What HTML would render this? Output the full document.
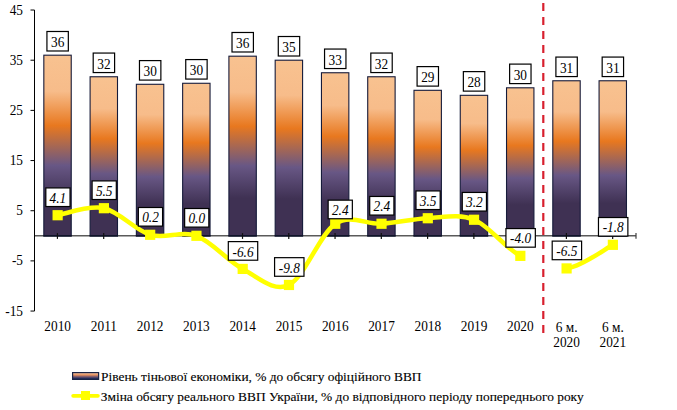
<!DOCTYPE html>
<html><head><meta charset="utf-8"><style>
html,body{margin:0;padding:0;background:#fff;}
svg{display:block;}
text{font-family:"Liberation Serif",serif;fill:#000;}
.s{font-size:13.33px;}
.x{font-size:13.33px;}
.i{font-size:13.33px;font-style:italic;}
.l{font-size:13.4px;stroke:#000;stroke-width:0.12px;}
</style></head><body>
<svg width="677" height="410" viewBox="0 0 677 410">
<defs><linearGradient id="g" x1="0" y1="0" x2="0" y2="1"><stop offset="0" stop-color="#F8C290"/><stop offset="0.2" stop-color="#F7BC8A"/><stop offset="0.39" stop-color="#E8781F"/><stop offset="0.61" stop-color="#685785"/><stop offset="0.79" stop-color="#3F3153"/><stop offset="1" stop-color="#3F3153"/></linearGradient><linearGradient id="gl" x1="0" y1="0" x2="0" y2="1"><stop offset="0" stop-color="#F8CDB0"/><stop offset="0.35" stop-color="#E8905A"/><stop offset="0.6" stop-color="#7A5A70"/><stop offset="0.85" stop-color="#283060"/><stop offset="1" stop-color="#1F2A55"/></linearGradient></defs>
<line x1="34.5" y1="235.8" x2="636.0" y2="235.8" stroke="#5a5a5a" stroke-width="1.5"/>
<rect x="43.83" y="55.19" width="27.4" height="180.61" fill="url(#g)" stroke="#161B3A" stroke-width="1.1"/>
<line x1="43.33" y1="235.8" x2="71.73" y2="235.8" stroke="#10142a" stroke-width="1.6"/>
<rect x="90.10" y="76.76" width="27.4" height="159.04" fill="url(#g)" stroke="#161B3A" stroke-width="1.1"/>
<line x1="89.60" y1="235.8" x2="118.00" y2="235.8" stroke="#10142a" stroke-width="1.6"/>
<rect x="136.37" y="84.29" width="27.4" height="151.51" fill="url(#g)" stroke="#161B3A" stroke-width="1.1"/>
<line x1="135.87" y1="235.8" x2="164.27" y2="235.8" stroke="#10142a" stroke-width="1.6"/>
<rect x="182.64" y="83.28" width="27.4" height="152.52" fill="url(#g)" stroke="#161B3A" stroke-width="1.1"/>
<line x1="182.14" y1="235.8" x2="210.54" y2="235.8" stroke="#10142a" stroke-width="1.6"/>
<rect x="228.91" y="56.19" width="27.4" height="179.61" fill="url(#g)" stroke="#161B3A" stroke-width="1.1"/>
<line x1="228.41" y1="235.8" x2="256.81" y2="235.8" stroke="#10142a" stroke-width="1.6"/>
<rect x="275.18" y="60.21" width="27.4" height="175.59" fill="url(#g)" stroke="#161B3A" stroke-width="1.1"/>
<line x1="274.68" y1="235.8" x2="303.08" y2="235.8" stroke="#10142a" stroke-width="1.6"/>
<rect x="321.45" y="72.75" width="27.4" height="163.05" fill="url(#g)" stroke="#161B3A" stroke-width="1.1"/>
<line x1="320.95" y1="235.8" x2="349.35" y2="235.8" stroke="#10142a" stroke-width="1.6"/>
<rect x="367.72" y="76.76" width="27.4" height="159.04" fill="url(#g)" stroke="#161B3A" stroke-width="1.1"/>
<line x1="367.22" y1="235.8" x2="395.62" y2="235.8" stroke="#10142a" stroke-width="1.6"/>
<rect x="413.99" y="90.31" width="27.4" height="145.49" fill="url(#g)" stroke="#161B3A" stroke-width="1.1"/>
<line x1="413.49" y1="235.8" x2="441.89" y2="235.8" stroke="#10142a" stroke-width="1.6"/>
<rect x="460.26" y="95.32" width="27.4" height="140.48" fill="url(#g)" stroke="#161B3A" stroke-width="1.1"/>
<line x1="459.76" y1="235.8" x2="488.16" y2="235.8" stroke="#10142a" stroke-width="1.6"/>
<rect x="506.53" y="87.80" width="27.4" height="148.00" fill="url(#g)" stroke="#161B3A" stroke-width="1.1"/>
<line x1="506.03" y1="235.8" x2="534.43" y2="235.8" stroke="#10142a" stroke-width="1.6"/>
<rect x="552.80" y="80.77" width="27.4" height="155.03" fill="url(#g)" stroke="#161B3A" stroke-width="1.1"/>
<line x1="552.30" y1="235.8" x2="580.70" y2="235.8" stroke="#10142a" stroke-width="1.6"/>
<rect x="599.07" y="80.77" width="27.4" height="155.03" fill="url(#g)" stroke="#161B3A" stroke-width="1.1"/>
<line x1="598.57" y1="235.8" x2="626.97" y2="235.8" stroke="#10142a" stroke-width="1.6"/>
<line x1="57.43" y1="233.10000000000002" x2="57.43" y2="238.9" stroke="#111" stroke-width="1.2"/>
<line x1="103.70" y1="233.10000000000002" x2="103.70" y2="238.9" stroke="#111" stroke-width="1.2"/>
<line x1="149.97" y1="233.10000000000002" x2="149.97" y2="238.9" stroke="#111" stroke-width="1.2"/>
<line x1="196.24" y1="233.10000000000002" x2="196.24" y2="238.9" stroke="#111" stroke-width="1.2"/>
<line x1="242.51" y1="233.10000000000002" x2="242.51" y2="238.9" stroke="#111" stroke-width="1.2"/>
<line x1="288.78" y1="233.10000000000002" x2="288.78" y2="238.9" stroke="#111" stroke-width="1.2"/>
<line x1="335.05" y1="233.10000000000002" x2="335.05" y2="238.9" stroke="#111" stroke-width="1.2"/>
<line x1="381.32" y1="233.10000000000002" x2="381.32" y2="238.9" stroke="#111" stroke-width="1.2"/>
<line x1="427.59" y1="233.10000000000002" x2="427.59" y2="238.9" stroke="#111" stroke-width="1.2"/>
<line x1="473.86" y1="233.10000000000002" x2="473.86" y2="238.9" stroke="#111" stroke-width="1.2"/>
<line x1="520.13" y1="233.10000000000002" x2="520.13" y2="238.9" stroke="#111" stroke-width="1.2"/>
<line x1="566.40" y1="233.10000000000002" x2="566.40" y2="238.9" stroke="#111" stroke-width="1.2"/>
<line x1="612.67" y1="233.10000000000002" x2="612.67" y2="238.9" stroke="#111" stroke-width="1.2"/>
<line x1="636.0" y1="233.0" x2="636.0" y2="238.8" stroke="#404040" stroke-width="1.2"/>
<line x1="34.5" y1="10.034999999999997" x2="34.5" y2="311.055" stroke="#000" stroke-width="1"/>
<line x1="30.5" y1="10.03" x2="34.5" y2="10.03" stroke="#000" stroke-width="1"/>
<text transform="translate(23.00,14.53) scale(1.0,1.04)" text-anchor="end" class="s">45</text>
<line x1="30.5" y1="60.21" x2="34.5" y2="60.21" stroke="#000" stroke-width="1"/>
<text transform="translate(23.00,64.71) scale(1.0,1.04)" text-anchor="end" class="s">35</text>
<line x1="30.5" y1="110.38" x2="34.5" y2="110.38" stroke="#000" stroke-width="1"/>
<text transform="translate(23.00,114.88) scale(1.0,1.04)" text-anchor="end" class="s">25</text>
<line x1="30.5" y1="160.55" x2="34.5" y2="160.55" stroke="#000" stroke-width="1"/>
<text transform="translate(23.00,165.05) scale(1.0,1.04)" text-anchor="end" class="s">15</text>
<line x1="30.5" y1="210.72" x2="34.5" y2="210.72" stroke="#000" stroke-width="1"/>
<text transform="translate(23.00,215.22) scale(1.0,1.04)" text-anchor="end" class="s">5</text>
<line x1="30.5" y1="260.88" x2="34.5" y2="260.88" stroke="#000" stroke-width="1"/>
<text transform="translate(23.00,265.38) scale(1.0,1.04)" text-anchor="end" class="s">-5</text>
<line x1="30.5" y1="311.06" x2="34.5" y2="311.06" stroke="#000" stroke-width="1"/>
<text transform="translate(23.00,315.56) scale(1.0,1.04)" text-anchor="end" class="s">-15</text>
<text transform="translate(57.63,331.00) scale(1.0,1.08)" text-anchor="middle" class="x">2010</text>
<text transform="translate(103.90,331.00) scale(1.0,1.08)" text-anchor="middle" class="x">2011</text>
<text transform="translate(150.17,331.00) scale(1.0,1.08)" text-anchor="middle" class="x">2012</text>
<text transform="translate(196.44,331.00) scale(1.0,1.08)" text-anchor="middle" class="x">2013</text>
<text transform="translate(242.71,331.00) scale(1.0,1.08)" text-anchor="middle" class="x">2014</text>
<text transform="translate(288.98,331.00) scale(1.0,1.08)" text-anchor="middle" class="x">2015</text>
<text transform="translate(335.25,331.00) scale(1.0,1.08)" text-anchor="middle" class="x">2016</text>
<text transform="translate(381.52,331.00) scale(1.0,1.08)" text-anchor="middle" class="x">2017</text>
<text transform="translate(427.79,331.00) scale(1.0,1.08)" text-anchor="middle" class="x">2018</text>
<text transform="translate(474.06,331.00) scale(1.0,1.08)" text-anchor="middle" class="x">2019</text>
<text transform="translate(520.33,331.00) scale(1.0,1.08)" text-anchor="middle" class="x">2020</text>
<text transform="translate(566.60,332.00) scale(1.0,1.08)" text-anchor="middle" class="x">6 м.</text>
<text transform="translate(566.60,347.00) scale(1.0,1.08)" text-anchor="middle" class="x">2020</text>
<text transform="translate(612.87,332.00) scale(1.0,1.08)" text-anchor="middle" class="x">6 м.</text>
<text transform="translate(612.87,347.00) scale(1.0,1.08)" text-anchor="middle" class="x">2021</text>
<line x1="543.3" y1="2.9" x2="543.3" y2="333" stroke="#D8202E" stroke-width="2.2" stroke-dasharray="8 6"/>
<rect x="46.93" y="31.49" width="21.4" height="19.5" fill="#fff" stroke="#000" stroke-width="1.2"/>
<text transform="translate(57.63,47.09) scale(1.0,1.08)" text-anchor="middle" class="x">36</text>
<rect x="93.20" y="53.06" width="21.4" height="19.5" fill="#fff" stroke="#000" stroke-width="1.2"/>
<text transform="translate(103.90,68.66) scale(1.0,1.08)" text-anchor="middle" class="x">32</text>
<rect x="139.47" y="60.59" width="21.4" height="19.5" fill="#fff" stroke="#000" stroke-width="1.2"/>
<text transform="translate(150.17,76.19) scale(1.0,1.08)" text-anchor="middle" class="x">30</text>
<rect x="185.74" y="59.58" width="21.4" height="19.5" fill="#fff" stroke="#000" stroke-width="1.2"/>
<text transform="translate(196.44,75.18) scale(1.0,1.08)" text-anchor="middle" class="x">30</text>
<rect x="232.01" y="32.49" width="21.4" height="19.5" fill="#fff" stroke="#000" stroke-width="1.2"/>
<text transform="translate(242.71,48.09) scale(1.0,1.08)" text-anchor="middle" class="x">36</text>
<rect x="278.28" y="36.51" width="21.4" height="19.5" fill="#fff" stroke="#000" stroke-width="1.2"/>
<text transform="translate(288.98,52.11) scale(1.0,1.08)" text-anchor="middle" class="x">35</text>
<rect x="324.55" y="49.05" width="21.4" height="19.5" fill="#fff" stroke="#000" stroke-width="1.2"/>
<text transform="translate(335.25,64.65) scale(1.0,1.08)" text-anchor="middle" class="x">33</text>
<rect x="370.82" y="53.06" width="21.4" height="19.5" fill="#fff" stroke="#000" stroke-width="1.2"/>
<text transform="translate(381.52,68.66) scale(1.0,1.08)" text-anchor="middle" class="x">32</text>
<rect x="417.09" y="66.61" width="21.4" height="19.5" fill="#fff" stroke="#000" stroke-width="1.2"/>
<text transform="translate(427.79,82.21) scale(1.0,1.08)" text-anchor="middle" class="x">29</text>
<rect x="463.36" y="71.62" width="21.4" height="19.5" fill="#fff" stroke="#000" stroke-width="1.2"/>
<text transform="translate(474.06,87.22) scale(1.0,1.08)" text-anchor="middle" class="x">28</text>
<rect x="509.63" y="64.10" width="21.4" height="19.5" fill="#fff" stroke="#000" stroke-width="1.2"/>
<text transform="translate(520.33,79.70) scale(1.0,1.08)" text-anchor="middle" class="x">30</text>
<rect x="555.90" y="57.07" width="21.4" height="19.5" fill="#fff" stroke="#000" stroke-width="1.2"/>
<text transform="translate(566.60,72.67) scale(1.0,1.08)" text-anchor="middle" class="x">31</text>
<rect x="602.17" y="57.07" width="21.4" height="19.5" fill="#fff" stroke="#000" stroke-width="1.2"/>
<text transform="translate(612.87,72.67) scale(1.0,1.08)" text-anchor="middle" class="x">31</text>
<path d="M57.63,215.23 C65.35,214.06 88.48,204.95 103.90,208.21 M103.90,208.21 C119.33,211.47 134.75,230.20 150.17,234.80 M150.17,234.80 C165.60,239.40 181.02,230.11 196.44,235.80 M196.44,235.80 C211.87,241.49 227.29,260.72 242.71,268.91 M242.71,268.91 C258.13,277.11 273.56,292.49 288.98,284.97 M288.98,284.97 C304.40,277.44 319.83,233.96 335.25,223.76 M335.25,223.76 C350.67,213.56 366.10,224.68 381.52,223.76 M381.52,223.76 C396.94,222.84 412.37,218.91 427.79,218.24 M427.79,218.24 C443.21,217.57 458.63,213.47 474.06,219.75 M474.06,219.75 C489.48,226.02 504.90,247.76 520.33,255.87 M566.60,268.41 C582.02,266.57 605.15,248.76 612.87,244.83" fill="none" stroke="#FFFF00" stroke-width="4.5" stroke-linejoin="round"/>
<rect x="52.53" y="210.13" width="10.2" height="10.2" fill="#FFFF00"/>
<rect x="98.80" y="203.11" width="10.2" height="10.2" fill="#FFFF00"/>
<rect x="145.07" y="229.70" width="10.2" height="10.2" fill="#FFFF00"/>
<rect x="191.34" y="230.70" width="10.2" height="10.2" fill="#FFFF00"/>
<rect x="237.61" y="263.81" width="10.2" height="10.2" fill="#FFFF00"/>
<rect x="283.88" y="279.87" width="10.2" height="10.2" fill="#FFFF00"/>
<rect x="330.15" y="218.66" width="10.2" height="10.2" fill="#FFFF00"/>
<rect x="376.42" y="218.66" width="10.2" height="10.2" fill="#FFFF00"/>
<rect x="422.69" y="213.14" width="10.2" height="10.2" fill="#FFFF00"/>
<rect x="468.96" y="214.65" width="10.2" height="10.2" fill="#FFFF00"/>
<rect x="515.23" y="250.77" width="10.2" height="10.2" fill="#FFFF00"/>
<rect x="561.50" y="263.31" width="10.2" height="10.2" fill="#FFFF00"/>
<rect x="607.77" y="239.73" width="10.2" height="10.2" fill="#FFFF00"/>
<rect x="45.83" y="187.93" width="24.2" height="18.6" fill="#fff" stroke="#000" stroke-width="1.2"/>
<text transform="translate(57.93,202.83) scale(1.0,1.08)" text-anchor="middle" class="i">4.1</text>
<rect x="92.10" y="180.91" width="24.2" height="18.6" fill="#fff" stroke="#000" stroke-width="1.2"/>
<text transform="translate(104.20,195.81) scale(1.0,1.08)" text-anchor="middle" class="i">5.5</text>
<rect x="138.37" y="207.50" width="24.2" height="18.6" fill="#fff" stroke="#000" stroke-width="1.2"/>
<text transform="translate(150.47,222.40) scale(1.0,1.08)" text-anchor="middle" class="i">0.2</text>
<rect x="184.64" y="208.50" width="24.2" height="18.6" fill="#fff" stroke="#000" stroke-width="1.2"/>
<text transform="translate(196.74,223.40) scale(1.0,1.08)" text-anchor="middle" class="i">0.0</text>
<rect x="228.31" y="241.61" width="29.4" height="18.6" fill="#fff" stroke="#000" stroke-width="1.2"/>
<text transform="translate(243.01,256.51) scale(1.0,1.08)" text-anchor="middle" class="i">-6.6</text>
<rect x="274.58" y="257.67" width="29.4" height="18.6" fill="#fff" stroke="#000" stroke-width="1.2"/>
<text transform="translate(289.28,272.57) scale(1.0,1.08)" text-anchor="middle" class="i">-9.8</text>
<rect x="328.15" y="200.16" width="24.2" height="18.6" fill="#fff" stroke="#000" stroke-width="1.2"/>
<text transform="translate(340.25,215.06) scale(1.0,1.08)" text-anchor="middle" class="i">2.4</text>
<rect x="369.72" y="196.46" width="24.2" height="18.6" fill="#fff" stroke="#000" stroke-width="1.2"/>
<text transform="translate(381.82,211.36) scale(1.0,1.08)" text-anchor="middle" class="i">2.4</text>
<rect x="415.99" y="190.94" width="24.2" height="18.6" fill="#fff" stroke="#000" stroke-width="1.2"/>
<text transform="translate(428.09,205.84) scale(1.0,1.08)" text-anchor="middle" class="i">3.5</text>
<rect x="462.26" y="192.45" width="24.2" height="18.6" fill="#fff" stroke="#000" stroke-width="1.2"/>
<text transform="translate(474.36,207.35) scale(1.0,1.08)" text-anchor="middle" class="i">3.2</text>
<rect x="505.93" y="228.57" width="29.4" height="18.6" fill="#fff" stroke="#000" stroke-width="1.2"/>
<text transform="translate(520.63,243.47) scale(1.0,1.08)" text-anchor="middle" class="i">-4.0</text>
<rect x="552.20" y="241.11" width="29.4" height="18.6" fill="#fff" stroke="#000" stroke-width="1.2"/>
<text transform="translate(566.90,256.01) scale(1.0,1.08)" text-anchor="middle" class="i">-6.5</text>
<rect x="598.47" y="217.53" width="29.4" height="18.6" fill="#fff" stroke="#000" stroke-width="1.2"/>
<text transform="translate(613.17,232.43) scale(1.0,1.08)" text-anchor="middle" class="i">-1.8</text>
<rect x="72.6" y="372.6" width="26.0" height="6.8" fill="url(#gl)" stroke="#1A2445" stroke-width="1.2"/>
<text transform="translate(101.10,380.60) scale(1.0,1.0)" text-anchor="start" class="l">Рівень тіньової економіки, % до обсягу офіційного ВВП</text>
<line x1="73.2" y1="395.8" x2="97.9" y2="395.8" stroke="#FFFF00" stroke-width="3.8" stroke-linecap="round"/>
<rect x="81" y="391" width="9" height="9" fill="#FFFF00"/>
<text transform="translate(100.80,401.00) scale(1.0,1.0)" text-anchor="start" class="l">Зміна обсягу реального ВВП України, % до відповідного періоду попереднього року</text>
</svg>
</body></html>
